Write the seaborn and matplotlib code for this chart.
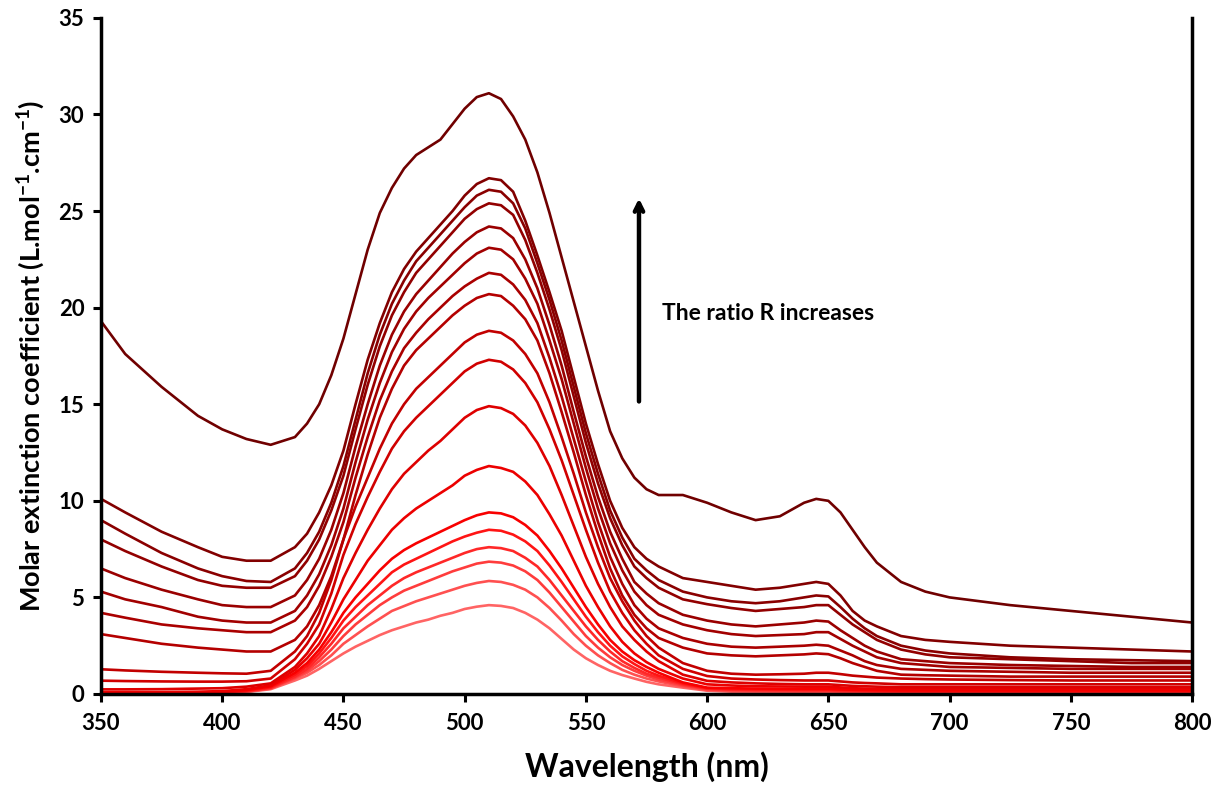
import numpy as np
import pandas as pd
import matplotlib
matplotlib.use("Agg")
import matplotlib.pyplot as plt
import seaborn as sns

# wavelength grid (nm) at which the curves were read
wavelength = [350, 360, 375, 390, 400, 410, 420,
              430, 435, 440, 445, 450,
              455, 460, 465, 470, 475, 480, 485, 490, 495, 500, 505, 510,
              515, 520, 525, 530, 535, 540, 545, 550, 555, 560, 565, 570, 575, 580,
              590, 600, 610, 620, 630, 640, 645, 650, 655, 660, 665, 670, 680, 690,
              700, 725, 750, 775, 800]

# top curve (highest ratio R)
curve_a = [19.3, 17.6, 15.9, 14.4, 13.7, 13.2, 12.9,
           13.3, 14.0, 15.0, 16.5, 18.4,
           20.7, 23.0, 24.9, 26.2, 27.2, 27.9, 28.3, 28.7, 29.5, 30.3, 30.9, 31.1,
           30.8, 29.9, 28.7, 27.0, 24.9, 22.6, 20.3, 18.0, 15.7, 13.6, 12.2, 11.2, 10.6, 10.3,
           10.3, 9.9, 9.4, 9.0, 9.2, 9.9, 10.1, 10.0, 9.4, 8.5, 7.6, 6.8, 5.8, 5.3,
           5.0, 4.6, 4.3, 4.0, 3.7]

# middle family
curve_b1 = [10.1, 9.4, 8.4, 7.6, 7.1, 6.9, 6.9,
            7.6, 8.3, 9.4, 10.8, 12.6,
            15.0, 17.3, 19.2, 20.8, 22.0, 22.9, 23.6, 24.3, 25.0, 25.8, 26.4, 26.7,
            26.6, 26.0, 24.5, 22.7, 20.8, 18.8, 16.4, 14.0, 11.9, 10.0, 8.6, 7.6, 7.0, 6.6,
            6.0, 5.8, 5.6, 5.4, 5.5, 5.7, 5.8, 5.7, 5.1, 4.3, 3.8, 3.5, 3.0, 2.8,
            2.7, 2.5, 2.4, 2.3, 2.2]
curve_b2 = [9.0, 8.3, 7.3, 6.5, 6.1, 5.85, 5.8,
            6.5, 7.3, 8.4, 9.9, 11.8,
            14.2, 16.6, 18.6, 20.2, 21.4, 22.4, 23.1, 23.8, 24.5, 25.2, 25.8, 26.1,
            26.0, 25.4, 24.1, 22.3, 20.4, 18.3, 15.9, 13.5, 11.4, 9.5, 8.1, 7.0, 6.4, 5.9,
            5.3, 5.0, 4.8, 4.7, 4.8, 5.0, 5.1, 5.05, 4.5, 3.9, 3.4, 3.0, 2.5, 2.25,
            2.1, 1.9, 1.8, 1.75, 1.7]
curve_b3 = [8.0, 7.4, 6.6, 5.9, 5.6, 5.5, 5.5,
            6.1, 6.9, 8.0, 9.5, 11.3,
            13.7, 16.0, 18.0, 19.6, 20.8, 21.8, 22.5, 23.2, 23.9, 24.6, 25.1, 25.4,
            25.3, 24.8, 23.5, 21.8, 19.9, 17.8, 15.4, 13.0, 10.9, 9.1, 7.7, 6.6, 6.0, 5.5,
            4.9, 4.65, 4.45, 4.3, 4.4, 4.5, 4.6, 4.6, 4.1, 3.6, 3.2, 2.8, 2.3, 2.05,
            1.9, 1.8, 1.7, 1.6, 1.6]
curve_b4 = [6.5, 6.0, 5.4, 4.9, 4.6, 4.5, 4.5,
            5.1, 5.9, 7.0, 8.5, 10.4,
            12.8, 15.0, 17.0, 18.6, 19.8, 20.7, 21.4, 22.1, 22.8, 23.4, 23.9, 24.2,
            24.1, 23.6, 22.5, 21.0, 19.1, 17.0, 14.6, 12.3, 10.2, 8.4, 7.0, 5.8, 5.2, 4.7,
            4.1, 3.8, 3.6, 3.5, 3.6, 3.7, 3.8, 3.75, 3.3, 2.9, 2.5, 2.2, 1.8, 1.7,
            1.6, 1.5, 1.45, 1.4, 1.4]
curve_b5 = [5.3, 4.9, 4.5, 4.0, 3.8, 3.7, 3.7,
            4.3, 5.1, 6.2, 7.7, 9.6,
            12.0, 14.2, 16.1, 17.7, 18.9, 19.8, 20.5, 21.1, 21.7, 22.3, 22.8, 23.1,
            23.0, 22.5, 21.5, 20.2, 18.3, 16.3, 14.0, 11.7, 9.6, 7.8, 6.4, 5.3, 4.6, 4.1,
            3.6, 3.3, 3.1, 3.0, 3.05, 3.1, 3.2, 3.2, 2.85, 2.5, 2.2, 1.9, 1.6, 1.5,
            1.4, 1.35, 1.3, 1.3, 1.3]
curve_b6 = [4.2, 3.95, 3.6, 3.4, 3.3, 3.2, 3.2,
            3.8, 4.5, 5.6, 7.1, 8.9,
            11.2, 13.3, 15.2, 16.7, 17.9, 18.7, 19.4, 20.0, 20.6, 21.1, 21.5, 21.8,
            21.7, 21.2, 20.4, 19.2, 17.4, 15.4, 13.2, 11.0, 8.9, 7.1, 5.7, 4.6, 3.9, 3.4,
            2.9, 2.6, 2.45, 2.4, 2.45, 2.5, 2.55, 2.5, 2.25, 2.0, 1.7, 1.5, 1.3, 1.25,
            1.2, 1.15, 1.1, 1.1, 1.1]
curve_b7 = [3.1, 2.9, 2.6, 2.4, 2.3, 2.2, 2.2,
            2.8, 3.5, 4.6, 6.1, 8.0,
            10.3, 12.4, 14.3, 15.8, 17.0, 17.8, 18.4, 19.0, 19.6, 20.1, 20.5, 20.7,
            20.6, 20.1, 19.4, 18.3, 16.6, 14.6, 12.5, 10.3, 8.3, 6.5, 5.1, 4.1, 3.4, 2.9,
            2.4, 2.1, 2.0, 1.95, 2.0, 2.05, 2.1, 2.06, 1.85, 1.6, 1.4, 1.2, 1.0, 0.97,
            0.95, 0.9, 0.9, 0.9, 0.9]

# lower family
curve_c1 = [1.28, 1.22, 1.15, 1.1, 1.07, 1.05, 1.2,
            2.2, 3.0, 4.2, 5.9, 8.0,
            9.7, 11.2, 12.7, 14.0, 15.0, 15.8, 16.4, 17.0, 17.6, 18.2, 18.6, 18.8,
            18.7, 18.3, 17.6, 16.6, 15.1, 13.3, 11.4, 9.4, 7.6, 6.0, 4.8, 3.8, 3.0, 2.4,
            1.6, 1.2, 1.05, 1.0, 1.02, 1.05, 1.1, 1.1, 1.03, 0.95, 0.9, 0.85, 0.8, 0.77,
            0.75, 0.72, 0.7, 0.7, 0.7]
curve_c2 = [0.69, 0.67, 0.65, 0.64, 0.64, 0.66, 0.8,
            1.8, 2.6, 3.6, 5.2, 7.2,
            8.8, 10.2, 11.5, 12.7, 13.6, 14.3, 14.9, 15.5, 16.1, 16.7, 17.1, 17.3,
            17.2, 16.8, 16.1, 15.1, 13.7, 12.1, 10.3, 8.5, 6.8, 5.3, 4.2, 3.3, 2.6, 2.0,
            1.3, 0.93, 0.8, 0.75, 0.72, 0.7, 0.7, 0.7, 0.65, 0.6, 0.57, 0.55, 0.5, 0.5,
            0.5, 0.5, 0.5, 0.5, 0.5]
curve_c3 = [0.24, 0.24, 0.25, 0.28, 0.3, 0.38, 0.55,
            1.4, 2.1, 3.0, 4.4, 6.0,
            7.3, 8.5, 9.6, 10.6, 11.4, 12.0, 12.6, 13.1, 13.7, 14.3, 14.7, 14.9,
            14.8, 14.5, 13.9, 13.0, 11.8, 10.3, 8.7, 7.1, 5.7, 4.5, 3.5, 2.8, 2.2, 1.7,
            1.0, 0.68, 0.6, 0.55, 0.52, 0.5, 0.5, 0.5, 0.46, 0.42, 0.4, 0.38, 0.35, 0.35,
            0.35, 0.35, 0.35, 0.35, 0.35]
curve_c4 = [0.1, 0.1, 0.1, 0.12, 0.15, 0.25, 0.45,
            1.25, 1.85, 2.6, 3.7, 4.9,
            5.9, 6.9, 7.7, 8.5, 9.1, 9.6, 10.0, 10.4, 10.8, 11.3, 11.6, 11.8,
            11.7, 11.5, 11.0, 10.3, 9.3, 8.2, 6.9, 5.6, 4.5, 3.5, 2.7, 2.1, 1.65, 1.3,
            0.8, 0.5, 0.44, 0.4, 0.39, 0.38, 0.38, 0.38, 0.34, 0.3, 0.28, 0.27, 0.25, 0.25,
            0.25, 0.25, 0.25, 0.25, 0.25]
curve_c5 = [0.05, 0.05, 0.05, 0.08, 0.1, 0.2, 0.4,
            1.1, 1.6, 2.3, 3.2, 4.2,
            5.0, 5.7, 6.4, 7.0, 7.45, 7.8, 8.1, 8.4, 8.7, 9.0, 9.25, 9.4,
            9.35, 9.15, 8.75, 8.2, 7.4, 6.5, 5.5, 4.5, 3.6, 2.8, 2.2, 1.75, 1.4, 1.1,
            0.6, 0.33, 0.3, 0.28, 0.27, 0.27, 0.27, 0.27, 0.24, 0.22, 0.21, 0.2, 0.18, 0.18,
            0.18, 0.18, 0.18, 0.18, 0.18]
curve_c6 = [0.03, 0.03, 0.03, 0.06, 0.08, 0.17, 0.35,
            1.0, 1.45, 2.1, 2.9, 3.8,
            4.5, 5.1, 5.7, 6.3, 6.7, 7.0, 7.3, 7.6, 7.9, 8.15, 8.35, 8.5,
            8.45, 8.25, 7.9, 7.4, 6.65, 5.8, 4.9, 4.0, 3.2, 2.5, 1.95, 1.55, 1.2, 0.95,
            0.55, 0.3, 0.26, 0.24, 0.23, 0.22, 0.22, 0.22, 0.2, 0.18, 0.17, 0.16, 0.15, 0.14,
            0.14, 0.14, 0.14, 0.14, 0.14]
curve_c7 = [0.02, 0.02, 0.02, 0.04, 0.06, 0.15, 0.32,
            0.9, 1.3, 1.9, 2.6, 3.4,
            4.0, 4.6, 5.1, 5.6, 6.0, 6.3, 6.55, 6.8, 7.05, 7.3, 7.5, 7.6,
            7.55, 7.4, 7.05, 6.6, 5.9, 5.1, 4.3, 3.5, 2.8, 2.2, 1.7, 1.35, 1.05, 0.85,
            0.5, 0.27, 0.22, 0.2, 0.19, 0.18, 0.18, 0.18, 0.16, 0.15, 0.14, 0.13, 0.12, 0.11,
            0.11, 0.11, 0.11, 0.1, 0.1]
curve_c8 = [0.01, 0.01, 0.01, 0.03, 0.05, 0.13, 0.3,
            0.85, 1.2, 1.7, 2.3, 3.0,
            3.6, 4.1, 4.6, 5.0, 5.35, 5.6, 5.85, 6.1, 6.35, 6.55, 6.75, 6.85,
            6.8, 6.65, 6.35, 5.9, 5.25, 4.5, 3.75, 3.0, 2.4, 1.9, 1.5, 1.2, 0.95, 0.75,
            0.45, 0.24, 0.19, 0.17, 0.16, 0.15, 0.15, 0.15, 0.13, 0.12, 0.11, 0.1, 0.1, 0.09,
            0.09, 0.09, 0.08, 0.08, 0.08]
curve_c9 = [0.0, 0.0, 0.0, 0.02, 0.04, 0.12, 0.28,
            0.8, 1.1, 1.5, 2.0, 2.6,
            3.05, 3.5, 3.9, 4.3, 4.55, 4.8, 5.0, 5.2, 5.4, 5.6, 5.75, 5.85,
            5.8, 5.65, 5.4, 5.0, 4.45, 3.8, 3.1, 2.5, 2.0, 1.6, 1.25, 1.0, 0.8, 0.65,
            0.4, 0.2, 0.16, 0.14, 0.13, 0.12, 0.12, 0.12, 0.11, 0.1, 0.09, 0.08, 0.07, 0.06,
            0.06, 0.06, 0.05, 0.05, 0.05]
curve_c10 = [0.0, 0.0, 0.0, 0.01, 0.03, 0.1, 0.25,
             0.7, 0.95, 1.3, 1.7, 2.1,
             2.45, 2.75, 3.05, 3.3, 3.5, 3.7, 3.85, 4.05, 4.2, 4.4, 4.52, 4.6,
             4.56, 4.45, 4.2, 3.85, 3.4, 2.85, 2.3, 1.85, 1.5, 1.2, 0.98, 0.8, 0.63, 0.5,
             0.33, 0.17, 0.12, 0.1, 0.09, 0.08, 0.08, 0.08, 0.07, 0.06, 0.05, 0.05, 0.04, 0.04,
             0.04, 0.03, 0.03, 0.03, 0.02]

curves = [curve_c10, curve_c9, curve_c8, curve_c7, curve_c6, curve_c5, curve_c4,
          curve_c3, curve_c2, curve_c1, curve_b7, curve_b6, curve_b5, curve_b4,
          curve_b3, curve_b2, curve_b1, curve_a]
names = ["C10", "C9", "C8", "C7", "C6", "C5", "C4", "C3", "C2", "C1",
         "B7", "B6", "B5", "B4", "B3", "B2", "B1", "A"]
colors = ["#FF6464", "#FF5050", "#FF3C3C", "#FF2828", "#FF1414", "#F80000",
          "#EC0000", "#DE0000", "#D00000", "#C20000", "#B40000", "#AA0000",
          "#A20000", "#9A0000", "#920000", "#8A0000", "#820000", "#700000"]

bad = [n for c, n in zip(curves, names) if len(c) != len(wavelength)]
if bad:
    raise ValueError(f"length mismatch: {[(n, len(c)) for c, n in zip(curves, names)]}")

df = pd.concat([pd.DataFrame({"wl": wavelength, "eps": c, "run": n})
                for c, n in zip(curves, names)], ignore_index=True)

sns.set_style("white")
plt.rcParams['font.family'] = ['Lato', 'DejaVu Sans']
plt.rcParams['mathtext.fontset'] = 'custom'
plt.rcParams['mathtext.rm'] = 'Lato:bold'
plt.rcParams['mathtext.default'] = 'rm'
plt.rcParams['text.color'] = 'black'
plt.rcParams['axes.labelcolor'] = 'black'
plt.rcParams['xtick.color'] = 'black'
plt.rcParams['ytick.color'] = 'black'

fig = plt.figure(figsize=(12.15, 7.88), dpi=100)
ax = fig.add_axes([0.0831, 0.1193, 0.898, 0.858])

sns.lineplot(data=df, x="wl", y="eps", hue="run", palette=colors,
             hue_order=names, linewidth=1.9, legend=False, ax=ax, sort=True)

ax.set_xlim(350, 800)
ax.set_ylim(0, 35)
ax.set_xticks(range(350, 801, 50))
ax.set_yticks(range(0, 36, 5))

for side in ["left", "bottom", "right"]:
    ax.spines[side].set_color("black")
    ax.spines[side].set_linewidth(2.5)
ax.spines["top"].set_visible(False)

ax.tick_params(axis="both", which="major", direction="out", length=6, width=2.2,
               labelsize=16, color="black", labelcolor="black", bottom=True, left=True)
ax.tick_params(axis="x", pad=8)
ax.tick_params(axis="y", pad=6)
for lab in ax.get_xticklabels() + ax.get_yticklabels():
    lab.set_fontweight("bold")

ax.set_xlabel("Wavelength (nm)", fontsize=23, fontweight="bold", labelpad=12)
ax.set_ylabel("Molar extinction coefficient (L.mol$^{-1}$.cm$^{-1}$)",
              fontsize=19.5, fontweight="bold", labelpad=8)

ax.annotate("", xy=(571.9, 25.8), xytext=(571.9, 15.0),
            arrowprops=dict(arrowstyle="->,head_length=0.6,head_width=0.3",
                            color="black", lw=3.2))
ax.text(581.5, 19.7, "The ratio R increases", fontsize=16.5, fontweight="bold",
        ha="left", va="center", color="black")

fig.savefig("out.png", dpi=100)
